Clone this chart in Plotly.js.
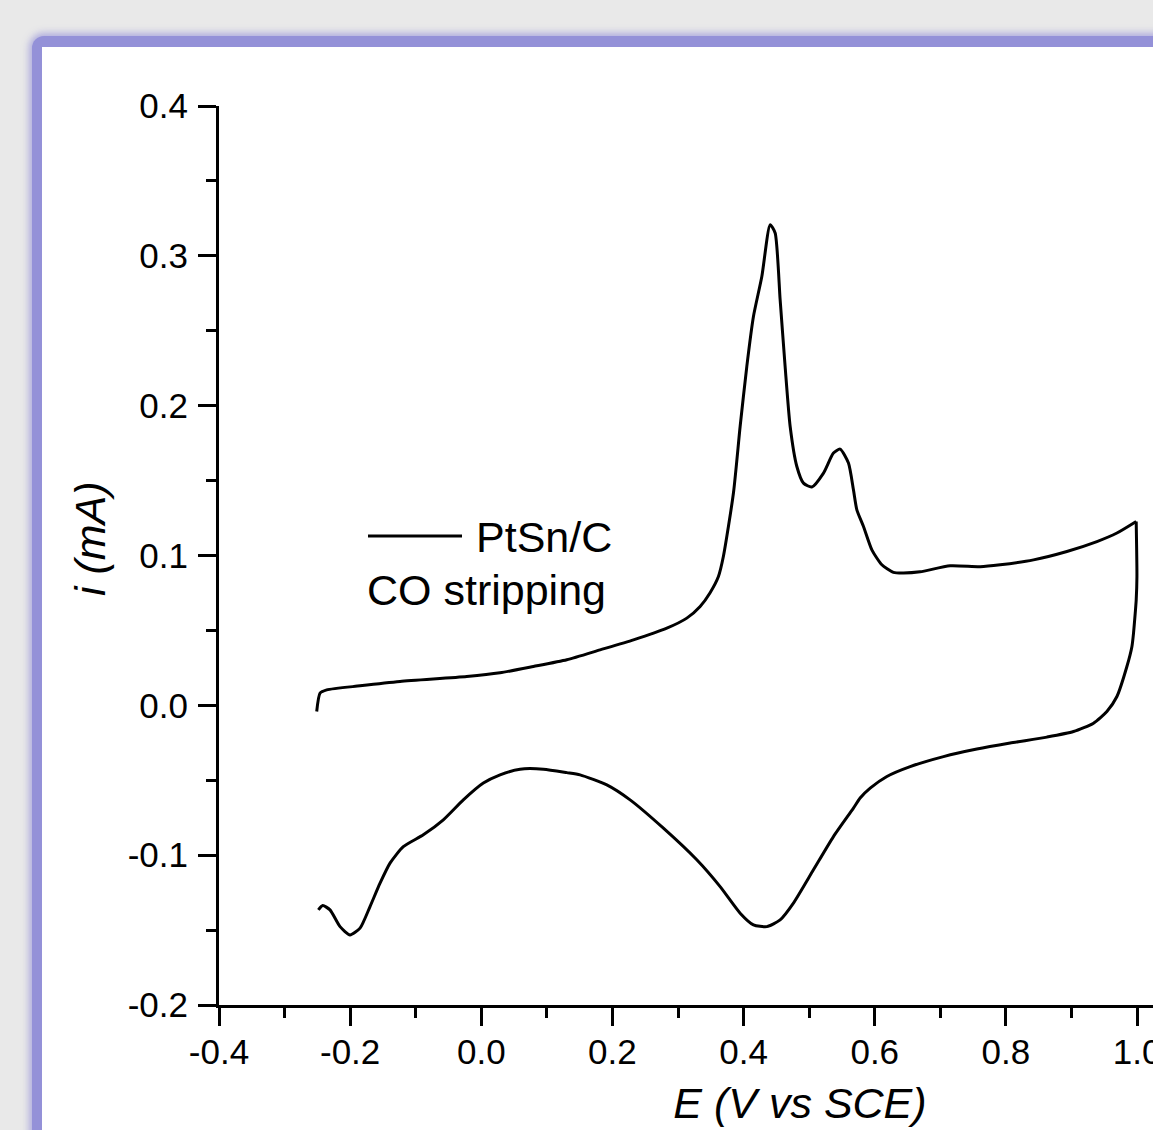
<!DOCTYPE html>
<html>
<head>
<meta charset="utf-8">
<script src="https://cdn.plot.ly/plotly-3.0.1.min.js"></script>
<style>
  html, body { margin: 0; padding: 0; width: 1153px; height: 1130px; overflow: hidden; background: #e9e9e9; }
  #band { position: absolute; left: 32px; top: 36px; width: 1300px; height: 1300px;
          background: #9491d8; border-radius: 12px; box-shadow: 0 0 7px 3px rgba(149,146,217,0.7); }
  #panel { position: absolute; left: 42px; top: 47px; width: 1300px; height: 1300px; background: #ffffff; }
  #chart { position: absolute; left: 0; top: 0; width: 1400px; height: 1250px; }
</style>
</head>
<body>
<div id="band"></div>
<div id="panel"></div>
<div id="chart"></div>
<script>
// Anodic (forward) scan, E in V vs SCE, i in mA
const E_forward = [-0.251, -0.2459, -0.2357, -0.1849, -0.1239, -0.0222, 0.0286, 0.0794, 0.1304, 0.1811,
  0.232, 0.2829, 0.3134, 0.3337, 0.3489, 0.3616, 0.3692, 0.3845, 0.3947, 0.4049, 0.415, 0.4278,
  0.4405, 0.4481, 0.4557, 0.4633, 0.471, 0.4812, 0.4913, 0.504, 0.5218, 0.537, 0.5472, 0.5599, 0.5675,
  0.5727, 0.5828, 0.5956, 0.6108, 0.6285, 0.6438, 0.6692, 0.715, 0.7608, 0.7913, 0.8421, 0.893, 0.9388,
  0.9693, 0.9987];
const i_forward = [-0.0041, 0.0081, 0.0103, 0.013, 0.0159, 0.0192, 0.0217, 0.0259, 0.0304, 0.037,
  0.0437, 0.0515, 0.0582, 0.066, 0.0752, 0.086, 0.0995, 0.1417, 0.1861, 0.2262, 0.2595, 0.2862,
  0.3208, 0.3152, 0.2707, 0.2262, 0.1861, 0.1594, 0.1483, 0.1457, 0.155, 0.1684, 0.171, 0.1617, 0.1439,
  0.1305, 0.1194, 0.1038, 0.0938, 0.0887, 0.0883, 0.0891, 0.0931, 0.0925, 0.0938, 0.0971, 0.1027, 0.1093,
  0.115, 0.1227];
// Cathodic (reverse) scan, starting at the switching potential
const E_reverse = [0.9987, 0.9998, 0.9987, 0.9972, 0.9946, 0.9922, 0.9845, 0.9693, 0.954, 0.9336, 0.9031,
  0.8625, 0.8065, 0.7557, 0.7048, 0.654, 0.6185, 0.593, 0.5777, 0.5675, 0.537, 0.5065, 0.476, 0.4557,
  0.4354, 0.415, 0.3947, 0.3642, 0.3286, 0.2777, 0.2269, 0.1914, 0.1506, 0.1304, 0.0947, 0.0591, 0.0286,
  0.0031, -0.0274, -0.0579, -0.0884, -0.1189, -0.1392, -0.1544, -0.1697, -0.1849, -0.2002, -0.2154,
  -0.2307, -0.2418, -0.2485];
const i_reverse = [0.1227, 0.086, 0.0704, 0.0615, 0.0482, 0.0393, 0.0259, 0.0059, -0.0041, -0.0119, -0.0175,
  -0.0212, -0.0252, -0.0292, -0.0342, -0.0409, -0.0475, -0.0553, -0.0619, -0.0686, -0.0876, -0.1098,
  -0.132, -0.1432, -0.1477, -0.1465, -0.1387, -0.121, -0.1031, -0.082, -0.0631, -0.0531, -0.0464,
  -0.0449, -0.0426, -0.0426, -0.0464, -0.0519, -0.0631, -0.0764, -0.0864, -0.0943, -0.1053, -0.1187,
  -0.1343, -0.1487, -0.1532, -0.1477, -0.1365, -0.1336, -0.1365];

const xTickVals = [-0.4, -0.2, 0.0, 0.2, 0.4, 0.6, 0.8, 1.0, 1.2];
const xTickText = ["-0.4", "-0.2", "0.0", "0.2", "0.4", "0.6", "0.8", "1.0", "1.2"];
const yTickVals = [-0.2, -0.1, 0.0, 0.1, 0.2, 0.3, 0.4];
const yTickText = ["-0.2", "-0.1", "0.0", "0.1", "0.2", "0.3", "0.4"];

const seriesName = "PtSn/C";
const noteText = "CO stripping";
const xTitle = "E (V vs SCE)";
const yTitle = "i (mA)";

const FONT = "Liberation Sans, Arial, sans-serif";

const lineStyle = { color: "#000000", width: 3, shape: "spline", smoothing: 0.6 };
const traces = [
  { x: E_forward, y: i_forward, type: "scatter", mode: "lines", name: seriesName,
    line: lineStyle, showlegend: false, hoverinfo: "skip" },
  { x: E_reverse, y: i_reverse, type: "scatter", mode: "lines", name: seriesName,
    line: lineStyle, showlegend: false, hoverinfo: "skip" }
];

const axisCommon = {
  showline: true, linecolor: "#000000", linewidth: 3,
  showgrid: false, zeroline: false,
  ticks: "outside", ticklen: 18, tickwidth: 3, tickcolor: "#000000",
  tickmode: "array",
  tickfont: { family: FONT, size: 35, color: "#000000" },
  ticklabeloverflow: "allow"
};

// plot area in pixels: left 219, right 1381, top 106, bottom 1005
const PL = 219, PR = 1381, PT = 106, PB = 1005;
const px = x => (x - PL) / (PR - PL);
const py = y => (PB - y) / (PB - PT);

const layout = {
  width: 1400, height: 1250,
  margin: { l: PL, r: 1400 - PR, t: PT, b: 1250 - PB },
  paper_bgcolor: "rgba(0,0,0,0)",
  plot_bgcolor: "rgba(0,0,0,0)",
  font: { family: FONT, color: "#000000" },
  xaxis: Object.assign({}, axisCommon, {
    range: [-0.4, 1.372], tickvals: xTickVals, ticktext: xTickText, ticklabelstandoff: -4,
    minor: { dtick: 0.1, tick0: -0.4, ticks: "outside", ticklen: 10, tickwidth: 3, tickcolor: "#000000", showgrid: false },
    title: { text: xTitle, font: { family: FONT, size: 43, style: "italic", color: "#000000" }, standoff: 18 }
  }),
  yaxis: Object.assign({}, axisCommon, {
    range: [-0.2, 0.4], tickvals: yTickVals, ticktext: yTickText, ticklabelstandoff: 3,
    minor: { dtick: 0.05, tick0: -0.2, ticks: "outside", ticklen: 10, tickwidth: 3, tickcolor: "#000000", showgrid: false }
  }),
  shapes: [
    { type: "line", xref: "paper", yref: "paper", x0: px(368), x1: px(462), y0: py(536), y1: py(536),
      line: { color: "#000000", width: 3 } }
  ],
  annotations: [
    { xref: "paper", yref: "paper", x: px(90), y: py(539), xanchor: "center", yanchor: "middle",
      textangle: -90, text: yTitle, showarrow: false,
      font: { family: FONT, size: 43, style: "italic", color: "#000000" } },
    { xref: "paper", yref: "paper", x: px(474), y: py(537), xanchor: "left", yanchor: "middle",
      text: seriesName, showarrow: false, font: { family: FONT, size: 43, color: "#000000" } },
    { xref: "paper", yref: "paper", x: px(365), y: py(590), xanchor: "left", yanchor: "middle",
      text: noteText, showarrow: false, font: { family: FONT, size: 43, color: "#000000" } }
  ]
};

Plotly.newPlot("chart", traces, layout, { displayModeBar: false, staticPlot: true });
</script>
</body>
</html>
